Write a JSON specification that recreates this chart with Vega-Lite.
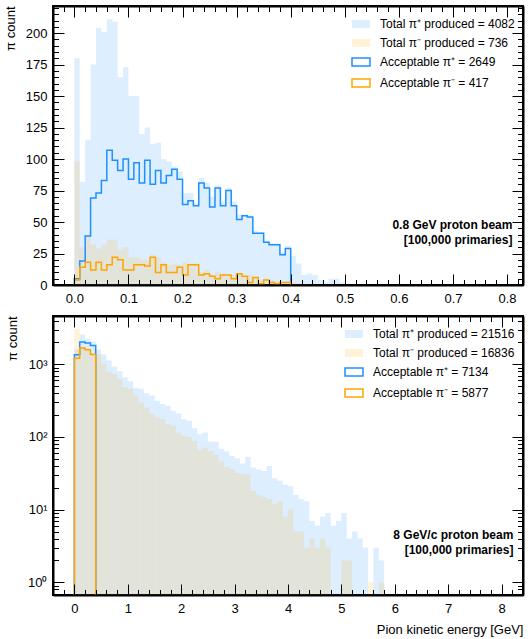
{
  "$schema": "https://vega.github.io/schema/vega-lite/v6.json",
  "padding": {"left": 3, "top": 4, "right": 4, "bottom": 2},
  "spacing": 8,
  "config": {
    "font": "Liberation Sans",
    "view": {"stroke": "black", "strokeWidth": 2},
    "axis": {
      "labelColor": "black", "labelFont": "Liberation Sans", "labelFontSize": 13,
      "titleFont": "Liberation Sans", "titleFontSize": 13, "titleFontWeight": "normal", "titleColor": "black",
      "grid": false, "labelFlush": false, "labelOverlap": false, "labelBound": false
    },
    "legend": {"labelFont": "Liberation Sans", "labelFontSize": 12, "labelColor": "black"}
  },
  "datasets": {
    "tp1": [{"lo":0,"hi":0.01,"n":180},{"lo":0.01,"hi":0.02,"n":82},{"lo":0.02,"hi":0.03,"n":115},{"lo":0.03,"hi":0.04,"n":175},{"lo":0.04,"hi":0.05,"n":204},{"lo":0.05,"hi":0.06,"n":201},{"lo":0.06,"hi":0.07,"n":211},{"lo":0.07,"hi":0.08,"n":209},{"lo":0.08,"hi":0.09,"n":165},{"lo":0.09,"hi":0.1,"n":173},{"lo":0.1,"hi":0.11,"n":150},{"lo":0.11,"hi":0.12,"n":150},{"lo":0.12,"hi":0.13,"n":120},{"lo":0.13,"hi":0.14,"n":125},{"lo":0.14,"hi":0.15,"n":112},{"lo":0.15,"hi":0.16,"n":113},{"lo":0.16,"hi":0.17,"n":100},{"lo":0.17,"hi":0.18,"n":98},{"lo":0.18,"hi":0.19,"n":94},{"lo":0.19,"hi":0.2,"n":90},{"lo":0.2,"hi":0.21,"n":73},{"lo":0.21,"hi":0.22,"n":73},{"lo":0.22,"hi":0.23,"n":65},{"lo":0.23,"hi":0.24,"n":85},{"lo":0.24,"hi":0.25,"n":81},{"lo":0.25,"hi":0.26,"n":70},{"lo":0.26,"hi":0.27,"n":79},{"lo":0.27,"hi":0.28,"n":66},{"lo":0.28,"hi":0.29,"n":77},{"lo":0.29,"hi":0.3,"n":66},{"lo":0.3,"hi":0.31,"n":56},{"lo":0.31,"hi":0.32,"n":56},{"lo":0.32,"hi":0.33,"n":55},{"lo":0.33,"hi":0.34,"n":43},{"lo":0.34,"hi":0.35,"n":42},{"lo":0.35,"hi":0.36,"n":35},{"lo":0.36,"hi":0.37,"n":33},{"lo":0.37,"hi":0.38,"n":33},{"lo":0.38,"hi":0.39,"n":26},{"lo":0.39,"hi":0.4,"n":31},{"lo":0.4,"hi":0.41,"n":23},{"lo":0.41,"hi":0.42,"n":17},{"lo":0.42,"hi":0.43,"n":8},{"lo":0.43,"hi":0.44,"n":9},{"lo":0.44,"hi":0.45,"n":8},{"lo":0.45,"hi":0.46,"n":4},{"lo":0.46,"hi":0.47,"n":2},{"lo":0.47,"hi":0.48,"n":5},{"lo":0.48,"hi":0.49,"n":5},{"lo":0.49,"hi":0.5,"n":2}],
    "tm1": [{"lo":0,"hi":0.01,"n":98},{"lo":0.01,"hi":0.02,"n":30},{"lo":0.02,"hi":0.03,"n":40},{"lo":0.03,"hi":0.04,"n":32},{"lo":0.04,"hi":0.05,"n":29},{"lo":0.05,"hi":0.06,"n":32},{"lo":0.06,"hi":0.07,"n":36},{"lo":0.07,"hi":0.08,"n":36},{"lo":0.08,"hi":0.09,"n":28},{"lo":0.09,"hi":0.1,"n":30},{"lo":0.1,"hi":0.11,"n":22},{"lo":0.11,"hi":0.12,"n":22},{"lo":0.12,"hi":0.13,"n":20},{"lo":0.13,"hi":0.14,"n":20},{"lo":0.14,"hi":0.15,"n":24},{"lo":0.15,"hi":0.16,"n":22},{"lo":0.16,"hi":0.17,"n":18},{"lo":0.17,"hi":0.18,"n":16},{"lo":0.18,"hi":0.19,"n":17},{"lo":0.19,"hi":0.2,"n":16},{"lo":0.2,"hi":0.21,"n":18},{"lo":0.21,"hi":0.22,"n":17},{"lo":0.22,"hi":0.23,"n":17},{"lo":0.23,"hi":0.24,"n":10},{"lo":0.24,"hi":0.25,"n":12},{"lo":0.25,"hi":0.26,"n":8},{"lo":0.26,"hi":0.27,"n":10},{"lo":0.27,"hi":0.28,"n":9},{"lo":0.28,"hi":0.29,"n":8},{"lo":0.29,"hi":0.3,"n":8},{"lo":0.3,"hi":0.31,"n":9},{"lo":0.31,"hi":0.32,"n":7},{"lo":0.32,"hi":0.33,"n":8},{"lo":0.33,"hi":0.34,"n":6},{"lo":0.34,"hi":0.35,"n":4},{"lo":0.35,"hi":0.36,"n":5},{"lo":0.36,"hi":0.37,"n":4},{"lo":0.37,"hi":0.38,"n":3},{"lo":0.38,"hi":0.39,"n":2},{"lo":0.39,"hi":0.4,"n":3},{"lo":0.4,"hi":0.41,"n":2},{"lo":0.41,"hi":0.42,"n":1},{"lo":0.42,"hi":0.43,"n":1}],
    "ap1": [{"e":0,"n":5},{"e":0.01,"n":19},{"e":0.02,"n":39},{"e":0.03,"n":69},{"e":0.04,"n":73},{"e":0.05,"n":83},{"e":0.06,"n":107},{"e":0.07,"n":99},{"e":0.08,"n":91},{"e":0.09,"n":100},{"e":0.1,"n":84},{"e":0.11,"n":97},{"e":0.12,"n":81},{"e":0.13,"n":99},{"e":0.14,"n":80},{"e":0.15,"n":91},{"e":0.16,"n":81},{"e":0.17,"n":87},{"e":0.18,"n":92},{"e":0.19,"n":84},{"e":0.2,"n":64},{"e":0.21,"n":67},{"e":0.22,"n":63},{"e":0.23,"n":81},{"e":0.24,"n":77},{"e":0.25,"n":62},{"e":0.26,"n":77},{"e":0.27,"n":63},{"e":0.28,"n":75},{"e":0.29,"n":63},{"e":0.3,"n":52},{"e":0.31,"n":55},{"e":0.32,"n":54},{"e":0.33,"n":41},{"e":0.34,"n":41},{"e":0.35,"n":34},{"e":0.36,"n":32},{"e":0.37,"n":32},{"e":0.38,"n":24},{"e":0.39,"n":29},{"e":0.4,"n":29}],
    "am1": [{"e":0,"n":4},{"e":0.01,"n":14},{"e":0.02,"n":18},{"e":0.03,"n":12},{"e":0.04,"n":18},{"e":0.05,"n":12},{"e":0.06,"n":16},{"e":0.07,"n":22},{"e":0.08,"n":20},{"e":0.09,"n":12},{"e":0.1,"n":12},{"e":0.11,"n":16},{"e":0.12,"n":16},{"e":0.13,"n":15},{"e":0.14,"n":22},{"e":0.15,"n":10},{"e":0.16,"n":16},{"e":0.17,"n":10},{"e":0.18,"n":10},{"e":0.19,"n":14},{"e":0.2,"n":8},{"e":0.21,"n":16},{"e":0.22,"n":16},{"e":0.23,"n":8},{"e":0.24,"n":9},{"e":0.25,"n":7},{"e":0.26,"n":5},{"e":0.27,"n":8},{"e":0.28,"n":8},{"e":0.29,"n":5},{"e":0.3,"n":9},{"e":0.31,"n":7},{"e":0.32,"n":2},{"e":0.33,"n":6},{"e":0.34,"n":1},{"e":0.35,"n":4},{"e":0.36,"n":2},{"e":0.37,"n":1},{"e":0.38,"n":2},{"e":0.39,"n":2},{"e":0.4,"n":2}],
    "tp2": [{"lo":0,"hi":0.1,"n":1600},{"lo":0.1,"hi":0.2,"n":2580},{"lo":0.2,"hi":0.3,"n":2250},{"lo":0.3,"hi":0.4,"n":2065},{"lo":0.4,"hi":0.5,"n":1585},{"lo":0.5,"hi":0.6,"n":1365},{"lo":0.6,"hi":0.7,"n":1127},{"lo":0.7,"hi":0.8,"n":931},{"lo":0.8,"hi":0.9,"n":803},{"lo":0.9,"hi":1.0,"n":663},{"lo":1.0,"hi":1.1,"n":584},{"lo":1.1,"hi":1.2,"n":472},{"lo":1.2,"hi":1.3,"n":460},{"lo":1.3,"hi":1.4,"n":400},{"lo":1.4,"hi":1.5,"n":371},{"lo":1.5,"hi":1.6,"n":316},{"lo":1.6,"hi":1.7,"n":284},{"lo":1.7,"hi":1.8,"n":269},{"lo":1.8,"hi":1.9,"n":230},{"lo":1.9,"hi":2.0,"n":211},{"lo":2.0,"hi":2.1,"n":176},{"lo":2.1,"hi":2.2,"n":167},{"lo":2.2,"hi":2.3,"n":132},{"lo":2.3,"hi":2.4,"n":109},{"lo":2.4,"hi":2.5,"n":115},{"lo":2.5,"hi":2.6,"n":86},{"lo":2.6,"hi":2.7,"n":86},{"lo":2.7,"hi":2.8,"n":69},{"lo":2.8,"hi":2.9,"n":63},{"lo":2.9,"hi":3.0,"n":55},{"lo":3.0,"hi":3.1,"n":51},{"lo":3.1,"hi":3.2,"n":43},{"lo":3.2,"hi":3.3,"n":53},{"lo":3.3,"hi":3.4,"n":38},{"lo":3.4,"hi":3.5,"n":36},{"lo":3.5,"hi":3.6,"n":34},{"lo":3.6,"hi":3.7,"n":40},{"lo":3.7,"hi":3.8,"n":27},{"lo":3.8,"hi":3.9,"n":25},{"lo":3.9,"hi":4.0,"n":22},{"lo":4.0,"hi":4.1,"n":21},{"lo":4.1,"hi":4.2,"n":16},{"lo":4.2,"hi":4.3,"n":14},{"lo":4.3,"hi":4.4,"n":13},{"lo":4.4,"hi":4.5,"n":7},{"lo":4.5,"hi":4.6,"n":6},{"lo":4.6,"hi":4.7,"n":8},{"lo":4.7,"hi":4.8,"n":9},{"lo":4.8,"hi":4.9,"n":6},{"lo":4.9,"hi":5.0,"n":7},{"lo":5.0,"hi":5.1,"n":9},{"lo":5.1,"hi":5.2,"n":4},{"lo":5.2,"hi":5.3,"n":5},{"lo":5.3,"hi":5.4,"n":4},{"lo":5.4,"hi":5.5,"n":3},{"lo":5.6,"hi":5.7,"n":3},{"lo":5.7,"hi":5.8,"n":2}],
    "tm2": [{"lo":0,"hi":0.1,"n":3090},{"lo":0.1,"hi":0.2,"n":1750},{"lo":0.2,"hi":0.3,"n":1650},{"lo":0.3,"hi":0.4,"n":1450},{"lo":0.4,"hi":0.5,"n":1390},{"lo":0.5,"hi":0.6,"n":1014},{"lo":0.6,"hi":0.7,"n":778},{"lo":0.7,"hi":0.8,"n":738},{"lo":0.8,"hi":0.9,"n":628},{"lo":0.9,"hi":1.0,"n":482},{"lo":1.0,"hi":1.1,"n":457},{"lo":1.1,"hi":1.2,"n":370},{"lo":1.2,"hi":1.3,"n":299},{"lo":1.3,"hi":1.4,"n":255},{"lo":1.4,"hi":1.5,"n":211},{"lo":1.5,"hi":1.6,"n":185},{"lo":1.6,"hi":1.7,"n":176},{"lo":1.7,"hi":1.8,"n":150},{"lo":1.8,"hi":1.9,"n":143},{"lo":1.9,"hi":2.0,"n":115},{"lo":2.0,"hi":2.1,"n":104},{"lo":2.1,"hi":2.2,"n":100},{"lo":2.2,"hi":2.3,"n":88},{"lo":2.3,"hi":2.4,"n":66},{"lo":2.4,"hi":2.5,"n":71},{"lo":2.5,"hi":2.6,"n":64},{"lo":2.6,"hi":2.7,"n":56},{"lo":2.7,"hi":2.8,"n":46},{"lo":2.8,"hi":2.9,"n":39},{"lo":2.9,"hi":3.0,"n":36},{"lo":3.0,"hi":3.1,"n":32},{"lo":3.1,"hi":3.2,"n":31},{"lo":3.2,"hi":3.3,"n":31},{"lo":3.3,"hi":3.4,"n":18},{"lo":3.4,"hi":3.5,"n":16},{"lo":3.5,"hi":3.6,"n":15},{"lo":3.6,"hi":3.7,"n":14},{"lo":3.7,"hi":3.8,"n":12},{"lo":3.8,"hi":3.9,"n":13},{"lo":3.9,"hi":4.0,"n":8},{"lo":4.0,"hi":4.1,"n":10},{"lo":4.1,"hi":4.2,"n":5},{"lo":4.2,"hi":4.3,"n":5},{"lo":4.3,"hi":4.4,"n":3},{"lo":4.4,"hi":4.5,"n":4},{"lo":4.5,"hi":4.6,"n":3},{"lo":4.6,"hi":4.7,"n":4},{"lo":4.7,"hi":4.8,"n":3},{"lo":5.0,"hi":5.1,"n":2},{"lo":5.1,"hi":5.2,"n":2},{"lo":5.5,"hi":5.6,"n":1},{"lo":5.7,"hi":5.8,"n":1}],
    "ap2": [{"e":0,"n":1350},{"e":0.1,"n":2020},{"e":0.2,"n":1960},{"e":0.3,"n":1820},{"e":0.4,"n":1820}],
    "am2": [{"e":0,"n":1215},{"e":0.1,"n":1670},{"e":0.2,"n":1585},{"e":0.3,"n":1365},{"e":0.4,"n":1365}]
  },
  "resolve": {"scale": {"x": "independent", "y": "independent", "color": "independent"}, "legend": {"color": "independent"}},
  "vconcat": [
    {
      "width": 470, "height": 279,
      "resolve": {"axis": {"x": "independent", "y": "independent"}},
      "layer": [
        {
          "data": {"name": "tp1"},
          "mark": {"type": "bar", "fillOpacity": 0.15, "clip": true},
          "encoding": {
            "x": {"field": "lo", "type": "quantitative", "scale": {"domain": [-0.0395, 0.8295], "nice": false, "zero": false},
              "axis": {"orient": "bottom", "title": null, "values": [0,0.1,0.2,0.3,0.4,0.5,0.6,0.7,0.8], "format": ".1f",
                "domain": true, "domainColor": "black", "domainWidth": 2, "ticks": true, "tickColor": "black", "tickWidth": 1, "tickSize": -11, "labelPadding": 18, "zindex": 1}},
            "x2": {"field": "hi"},
            "y": {"field": "n", "type": "quantitative", "scale": {"domain": [0, 221.55], "nice": false},
              "axis": {"orient": "left", "title": "π count", "titleAnchor": "end", "titlePadding": 8, "values": [0,25,50,75,100,125,150,175,200],
                "domain": true, "domainColor": "black", "domainWidth": 2, "ticks": true, "tickColor": "black", "tickWidth": 1, "tickSize": -11, "labelPadding": 17, "zindex": 1}},
            "y2": {"datum": 0},
            "color": {"datum": "Total π⁺ produced = 4082", "type": "nominal",
              "scale": {"domain": ["Total π⁺ produced = 4082", "Total π⁻ produced = 736", "Acceptable π⁺ = 2649", "Acceptable π⁻ = 417"], "range": ["#1e90ff", "#ffa500", "#1e90ff", "#ffa500"]},
              "legend": {"orient": "top-right", "title": null, "offset": 8, "rowPadding": 3, "labelOffset": 9,
                "symbolType": "M-1,-0.45H1V0.45H-1Z", "symbolSize": 324,
                "encode": {"symbols": {"update": {
                  "fillOpacity": {"signal": "indexof(datum.value, 'Total') == 0 ? 0.15 : 0"},
                  "strokeOpacity": {"signal": "indexof(datum.value, 'Total') == 0 ? 0 : 1"},
                  "strokeWidth": {"value": 1.5}}}}}}
          }
        },
        {
          "data": {"name": "tm1"},
          "mark": {"type": "bar", "fillOpacity": 0.15, "clip": true},
          "encoding": {
            "x": {"field": "lo", "type": "quantitative", "scale": {"domain": [-0.0395, 0.8295], "nice": false, "zero": false},
              "axis": {"orient": "top", "title": null, "labels": false, "values": [0,0.1,0.2,0.3,0.4,0.5,0.6,0.7,0.8],
                "domain": true, "domainColor": "black", "domainWidth": 2, "ticks": true, "tickColor": "black", "tickWidth": 1, "tickSize": -11, "zindex": 1}},
            "x2": {"field": "hi"},
            "y": {"field": "n", "type": "quantitative", "scale": {"domain": [0, 221.55], "nice": false},
              "axis": {"orient": "right", "title": null, "labels": false, "values": [0,25,50,75,100,125,150,175,200],
                "domain": true, "domainColor": "black", "domainWidth": 2, "ticks": true, "tickColor": "black", "tickWidth": 1, "tickSize": -11, "zindex": 1}},
            "y2": {"datum": 0},
            "color": {"datum": "Total π⁻ produced = 736", "type": "nominal"}
          }
        },
        {
          "data": {"name": "ap1"},
          "mark": {"type": "area", "interpolate": "step-after", "filled": false, "strokeWidth": 1.5, "clip": true},
          "encoding": {
            "x": {"field": "e", "type": "quantitative", "scale": {"domain": [-0.0395, 0.8295], "nice": false, "zero": false},
              "axis": {"orient": "bottom", "title": null, "labels": false, "domain": false,
                "values": [-0.02,0.02,0.04,0.06,0.08,0.12,0.14,0.16,0.18,0.22,0.24,0.26,0.28,0.32,0.34,0.36,0.38,0.42,0.44,0.46,0.48,0.52,0.54,0.56,0.58,0.62,0.64,0.66,0.68,0.72,0.74,0.76,0.78,0.82],
                "ticks": true, "tickColor": "black", "tickWidth": 1, "tickSize": -5.5, "zindex": 1}},
            "y": {"field": "n", "type": "quantitative", "scale": {"domain": [0, 221.55], "nice": false},
              "axis": {"orient": "left", "title": null, "labels": false, "domain": false,
                "values": [5,10,15,20,30,35,40,45,55,60,65,70,80,85,90,95,105,110,115,120,130,135,140,145,155,160,165,170,180,185,190,195,205,210,215,220],
                "ticks": true, "tickColor": "black", "tickWidth": 1, "tickSize": -5.5, "zindex": 1}},
            "y2": {"datum": -2},
            "color": {"datum": "Acceptable π⁺ = 2649", "type": "nominal"}
          }
        },
        {
          "data": {"name": "am1"},
          "mark": {"type": "area", "interpolate": "step-after", "filled": false, "strokeWidth": 1.5, "clip": true},
          "encoding": {
            "x": {"field": "e", "type": "quantitative", "scale": {"domain": [-0.0395, 0.8295], "nice": false, "zero": false},
              "axis": {"orient": "top", "title": null, "labels": false, "domain": false,
                "values": [-0.02,0.02,0.04,0.06,0.08,0.12,0.14,0.16,0.18,0.22,0.24,0.26,0.28,0.32,0.34,0.36,0.38,0.42,0.44,0.46,0.48,0.52,0.54,0.56,0.58,0.62,0.64,0.66,0.68,0.72,0.74,0.76,0.78,0.82],
                "ticks": true, "tickColor": "black", "tickWidth": 1, "tickSize": -5.5, "zindex": 1}},
            "y": {"field": "n", "type": "quantitative", "scale": {"domain": [0, 221.55], "nice": false},
              "axis": {"orient": "right", "title": null, "labels": false, "domain": false,
                "values": [5,10,15,20,30,35,40,45,55,60,65,70,80,85,90,95,105,110,115,120,130,135,140,145,155,160,165,170,180,185,190,195,205,210,215,220],
                "ticks": true, "tickColor": "black", "tickWidth": 1, "tickSize": -5.5, "zindex": 1}},
            "y2": {"datum": -2},
            "color": {"datum": "Acceptable π⁻ = 417", "type": "nominal"}
          }
        },
        {
          "data": {"values": [{}]},
          "mark": {"type": "text", "align": "right", "baseline": "middle", "fontWeight": "bold", "fontSize": 12, "lineHeight": 14.5, "color": "black",
            "text": ["0.8 GeV proton beam", "[100,000 primaries]"]},
          "encoding": {
            "x": {"datum": 0.81, "type": "quantitative", "scale": {"domain": [-0.0395, 0.8295], "nice": false, "zero": false}, "axis": null},
            "y": {"datum": 47.4, "type": "quantitative", "scale": {"domain": [0, 221.55], "nice": false}, "axis": null}
          }
        }
      ]
    },
    {
      "width": 470, "height": 279,
      "resolve": {"axis": {"x": "independent", "y": "independent"}},
      "layer": [
        {
          "data": {"name": "tp2"},
          "mark": {"type": "bar", "fillOpacity": 0.15, "clip": true},
          "encoding": {
            "x": {"field": "lo", "type": "quantitative", "scale": {"domain": [-0.4, 8.4], "nice": false, "zero": false},
              "axis": {"orient": "bottom", "title": "Pion kinetic energy [GeV]", "titleAnchor": "end", "titlePadding": 8, "values": [0,1,2,3,4,5,6,7,8], "format": "d",
                "domain": true, "domainColor": "black", "domainWidth": 2, "ticks": true, "tickColor": "black", "tickWidth": 1, "tickSize": -11, "labelPadding": 18, "zindex": 1}},
            "x2": {"field": "hi"},
            "y": {"field": "n", "type": "quantitative", "scale": {"type": "log", "domain": [0.669, 4620], "nice": false},
              "axis": {"orient": "left", "title": "π count", "titleAnchor": "end", "titlePadding": 8, "values": [1,10,100,1000],
                "labelExpr": "datum.value == 1 ? '10⁰' : datum.value == 10 ? '10¹' : datum.value == 100 ? '10²' : '10³'",
                "domain": true, "domainColor": "black", "domainWidth": 2, "ticks": true, "tickColor": "black", "tickWidth": 1, "tickSize": -11, "labelPadding": 17, "zindex": 1}},
            "y2": {"datum": 0.5},
            "color": {"datum": "Total π⁺ produced = 21516", "type": "nominal",
              "scale": {"domain": ["Total π⁺ produced = 21516", "Total π⁻ produced = 16836", "Acceptable π⁺ = 7134", "Acceptable π⁻ = 5877"], "range": ["#1e90ff", "#ffa500", "#1e90ff", "#ffa500"]},
              "legend": {"orient": "top-right", "title": null, "offset": 8, "rowPadding": 3, "labelOffset": 9,
                "symbolType": "M-1,-0.45H1V0.45H-1Z", "symbolSize": 324,
                "encode": {"symbols": {"update": {
                  "fillOpacity": {"signal": "indexof(datum.value, 'Total') == 0 ? 0.15 : 0"},
                  "strokeOpacity": {"signal": "indexof(datum.value, 'Total') == 0 ? 0 : 1"},
                  "strokeWidth": {"value": 1.5}}}}}}
          }
        },
        {
          "data": {"name": "tm2"},
          "mark": {"type": "bar", "fillOpacity": 0.15, "clip": true},
          "encoding": {
            "x": {"field": "lo", "type": "quantitative", "scale": {"domain": [-0.4, 8.4], "nice": false, "zero": false},
              "axis": {"orient": "top", "title": null, "labels": false, "values": [0,1,2,3,4,5,6,7,8],
                "domain": true, "domainColor": "black", "domainWidth": 2, "ticks": true, "tickColor": "black", "tickWidth": 1, "tickSize": -11, "zindex": 1}},
            "x2": {"field": "hi"},
            "y": {"field": "n", "type": "quantitative", "scale": {"type": "log", "domain": [0.669, 4620], "nice": false},
              "axis": {"orient": "right", "title": null, "labels": false, "values": [1,10,100,1000],
                "domain": true, "domainColor": "black", "domainWidth": 2, "ticks": true, "tickColor": "black", "tickWidth": 1, "tickSize": -11, "zindex": 1}},
            "y2": {"datum": 0.5},
            "color": {"datum": "Total π⁻ produced = 16836", "type": "nominal"}
          }
        },
        {
          "data": {"name": "ap2"},
          "mark": {"type": "area", "interpolate": "step-after", "filled": false, "strokeWidth": 1.5, "clip": true},
          "encoding": {
            "x": {"field": "e", "type": "quantitative", "scale": {"domain": [-0.4, 8.4], "nice": false, "zero": false},
              "axis": {"orient": "bottom", "title": null, "labels": false, "domain": false,
                "values": [-0.4,-0.2,0.2,0.4,0.6,0.8,1.2,1.4,1.6,1.8,2.2,2.4,2.6,2.8,3.2,3.4,3.6,3.8,4.2,4.4,4.6,4.8,5.2,5.4,5.6,5.8,6.2,6.4,6.6,6.8,7.2,7.4,7.6,7.8,8.2,8.4],
                "ticks": true, "tickColor": "black", "tickWidth": 1, "tickSize": -5.5, "zindex": 1}},
            "y": {"field": "n", "type": "quantitative", "scale": {"type": "log", "domain": [0.669, 4620], "nice": false},
              "axis": {"orient": "left", "title": null, "labels": false, "domain": false,
                "values": [0.7,0.8,0.9,2,3,4,5,6,7,8,9,20,30,40,50,60,70,80,90,200,300,400,500,600,700,800,900,2000,3000,4000],
                "ticks": true, "tickColor": "black", "tickWidth": 1, "tickSize": -5.5, "zindex": 1}},
            "y2": {"datum": 0.5},
            "color": {"datum": "Acceptable π⁺ = 7134", "type": "nominal"}
          }
        },
        {
          "data": {"name": "am2"},
          "mark": {"type": "area", "interpolate": "step-after", "filled": false, "strokeWidth": 1.5, "clip": true},
          "encoding": {
            "x": {"field": "e", "type": "quantitative", "scale": {"domain": [-0.4, 8.4], "nice": false, "zero": false},
              "axis": {"orient": "top", "title": null, "labels": false, "domain": false,
                "values": [-0.4,-0.2,0.2,0.4,0.6,0.8,1.2,1.4,1.6,1.8,2.2,2.4,2.6,2.8,3.2,3.4,3.6,3.8,4.2,4.4,4.6,4.8,5.2,5.4,5.6,5.8,6.2,6.4,6.6,6.8,7.2,7.4,7.6,7.8,8.2,8.4],
                "ticks": true, "tickColor": "black", "tickWidth": 1, "tickSize": -5.5, "zindex": 1}},
            "y": {"field": "n", "type": "quantitative", "scale": {"type": "log", "domain": [0.669, 4620], "nice": false},
              "axis": {"orient": "right", "title": null, "labels": false, "domain": false,
                "values": [0.7,0.8,0.9,2,3,4,5,6,7,8,9,20,30,40,50,60,70,80,90,200,300,400,500,600,700,800,900,2000,3000,4000],
                "ticks": true, "tickColor": "black", "tickWidth": 1, "tickSize": -5.5, "zindex": 1}},
            "y2": {"datum": 0.5},
            "color": {"datum": "Acceptable π⁻ = 5877", "type": "nominal"}
          }
        },
        {
          "data": {"values": [{}]},
          "mark": {"type": "text", "align": "right", "baseline": "middle", "fontWeight": "bold", "fontSize": 12, "lineHeight": 14.5, "color": "black",
            "text": ["8 GeV/c proton beam", "[100,000 primaries]"]},
          "encoding": {
            "x": {"datum": 8.22, "type": "quantitative", "scale": {"domain": [-0.4, 8.4], "nice": false, "zero": false}, "axis": null},
            "y": {"datum": 4.45, "type": "quantitative", "scale": {"type": "log", "domain": [0.669, 4620], "nice": false}, "axis": null}
          }
        }
      ]
    }
  ]
}
